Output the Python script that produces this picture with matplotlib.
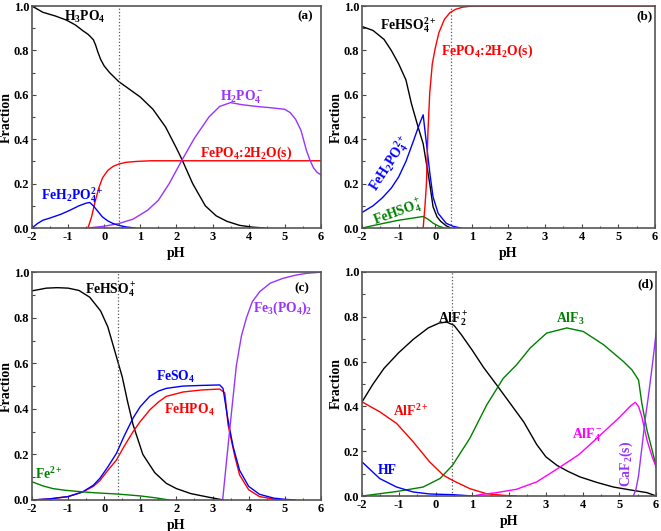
import matplotlib

matplotlib.use("Agg")
import matplotlib.pyplot as plt
from matplotlib.ticker import MultipleLocator, FormatStrFormatter

plt.rcParams["font.family"] = ["Liberation Serif", "DejaVu Serif"]
plt.rcParams["font.weight"] = "bold"
plt.rcParams["mathtext.fontset"] = "custom"
plt.rcParams["mathtext.rm"] = "Liberation Serif:bold"
plt.rcParams["mathtext.bf"] = "Liberation Serif:bold"
plt.rcParams["mathtext.it"] = "Liberation Serif:bold:italic"
plt.rcParams["mathtext.default"] = "rm"
plt.rcParams["axes.unicode_minus"] = False

BLACK = "#000000"
RED = "#ff0000"
BLUE = "#0000ff"
GREEN = "#008000"
PURPLE = "#9933ff"
MAGENTA = "#ff00ff"

# ---- panel (a) ----
a_h3po4_ph = [-2, -1.7, -1.35, -1.05, -0.8, -0.6, -0.45, -0.38, -0.3, -0.24, -0.18, -0.1, 0.0,
              0.15, 0.4, 0.7, 1.0, 1.35, 1.7, 2.0, 2.15, 2.45, 2.8, 3.1, 3.4, 3.75, 4.1, 4.45]
a_h3po4 = [1.0, 0.972, 0.955, 0.937, 0.915, 0.89, 0.873, 0.862, 0.848, 0.825, 0.795, 0.76,
           0.73, 0.7, 0.66, 0.625, 0.59, 0.535, 0.455, 0.36, 0.31, 0.2, 0.1, 0.055, 0.03,
           0.012, 0.004, 0.0]
a_fepo4_ph = [-0.45, -0.35, -0.25, -0.15, -0.05, 0.1, 0.25, 0.4, 0.6, 0.9, 1.3, 6.0]
a_fepo4 = [0.0, 0.05, 0.12, 0.18, 0.225, 0.26, 0.278, 0.288, 0.296, 0.3, 0.303, 0.303]
a_h2po4_ph = [-0.45, 0.0, 0.4, 0.8, 1.2, 1.5, 1.8, 2.15, 2.5, 2.9, 3.2, 3.5, 3.8, 4.2, 4.6, 5.0,
              5.15, 5.3, 5.45, 5.6, 5.7, 5.8, 5.9, 6.0]
a_h2po4 = [0.0, 0.008, 0.02, 0.04, 0.08, 0.125, 0.2, 0.305, 0.405, 0.5, 0.548, 0.565, 0.556,
           0.548, 0.542, 0.535, 0.52, 0.49, 0.44, 0.35, 0.305, 0.27, 0.25, 0.24]
a_feh2po4_ph = [-2, -1.85, -1.7, -1.5, -1.2, -0.95, -0.7, -0.5, -0.4, -0.3, -0.2, -0.05, 0.1,
                0.25, 0.4, 0.6, 0.85]
a_feh2po4 = [0.0, 0.02, 0.035, 0.045, 0.062, 0.08, 0.1, 0.112, 0.115, 0.1, 0.08, 0.05, 0.032,
             0.02, 0.012, 0.005, 0.0]

# ---- panel (b) ----
b_fehso4_ph = [-2, -1.7, -1.4, -1.2, -1.0, -0.8, -0.65, -0.47, -0.33, -0.24, -0.15, -0.06,
               0.05, 0.15, 0.3, 0.42]
b_fehso4 = [0.908, 0.89, 0.85, 0.8, 0.74, 0.667, 0.56, 0.456, 0.38, 0.29, 0.2, 0.096, 0.05,
            0.03, 0.01, 0.0]
b_feh2po4_ph = [-2, -1.7, -1.45, -1.2, -1.0, -0.8, -0.6, -0.45, -0.33, -0.24, -0.15, -0.06,
                0.08, 0.3, 0.5, 0.7]
b_feh2po4 = [0.07, 0.1, 0.135, 0.18, 0.23, 0.3, 0.39, 0.46, 0.51, 0.38, 0.25, 0.14, 0.066,
             0.021, 0.007, 0.0]
b_fehso4p_ph = [-2, -1.5, -1.0, -0.6, -0.33, -0.2, -0.06, 0.1, 0.25]
b_fehso4p = [0.0, 0.018, 0.035, 0.045, 0.052, 0.04, 0.022, 0.008, 0.0]
b_fepo4_ph = [-0.33, -0.28, -0.24, -0.2, -0.15, -0.08, 0.0, 0.1, 0.25, 0.4, 0.55, 0.75, 1.0, 6.0]
b_fepo4 = [0.0, 0.1, 0.2, 0.43, 0.61, 0.74, 0.81, 0.88, 0.94, 0.97, 0.985, 0.995, 1.0, 1.0]

# ---- panel (c) ----
c_fehso4_ph = [-2, -1.6, -1.3, -1.0, -0.7, -0.4, -0.1, 0.1, 0.3, 0.5, 0.65, 0.8, 1.07, 1.4,
               1.72, 2.0, 2.4, 2.9, 3.3]
c_fehso4 = [0.918, 0.93, 0.932, 0.93, 0.92, 0.89, 0.83, 0.76, 0.65, 0.54, 0.43, 0.33, 0.2,
            0.12, 0.073, 0.05, 0.028, 0.012, 0.0]
c_feso4_ph = [-2, -1.5, -1.0, -0.6, -0.3, -0.12, 0.1, 0.34, 0.55, 0.8, 1.0, 1.26, 1.5, 1.72,
              2.18, 2.7, 3.2, 3.29, 3.36, 3.43, 3.57, 3.75, 4.0, 4.3, 4.7, 5.0, 5.3]
c_feso4 = [0.0, 0.005, 0.015, 0.035, 0.065, 0.095, 0.145, 0.205, 0.28, 0.36, 0.41, 0.455,
           0.478, 0.49, 0.5, 0.503, 0.505, 0.49, 0.42, 0.35, 0.234, 0.13, 0.06, 0.025, 0.008,
           0.003, 0.0]
c_fehpo4_ph = [-2, -1.5, -1.0, -0.6, -0.3, -0.12, 0.1, 0.34, 0.55, 0.8, 1.0, 1.26, 1.5, 1.72,
               2.18, 2.7, 3.2, 3.34, 3.43, 3.62, 3.75, 4.0, 4.3, 4.7, 5.0]
c_fehpo4 = [0.0, 0.005, 0.015, 0.035, 0.06, 0.085, 0.13, 0.176, 0.235, 0.3, 0.345, 0.395,
            0.43, 0.455, 0.474, 0.483, 0.487, 0.47, 0.33, 0.19, 0.11, 0.045, 0.015, 0.004, 0.0]
c_fe3po4_ph = [3.28, 3.47, 3.66, 3.8, 3.94, 4.1, 4.31, 4.6, 4.95, 5.3, 5.6, 6.0]
c_fe3po4 = [0.0, 0.3, 0.59, 0.72, 0.8, 0.87, 0.915, 0.952, 0.973, 0.987, 0.995, 1.0]
c_fe2_ph = [-2, -1.7, -1.42, -1.1, -0.77, -0.3, 0.38, 0.99, 1.4, 1.8]
c_fe2 = [0.08, 0.062, 0.05, 0.043, 0.038, 0.032, 0.026, 0.018, 0.01, 0.0]

# ---- panel (d) ----
d_alf2_ph = [-2, -1.7, -1.4, -1.0, -0.6, -0.2, 0.1, 0.3, 0.5, 0.7, 1.0, 1.3, 1.66, 2.0, 2.4,
             2.75, 3.0, 3.3, 3.6, 3.93, 4.4, 4.84, 5.3, 5.75, 6.0]
d_alf2 = [0.42, 0.5, 0.57, 0.64, 0.7, 0.75, 0.772, 0.776, 0.762, 0.72, 0.65, 0.575, 0.496,
          0.42, 0.33, 0.23, 0.175, 0.137, 0.11, 0.085, 0.06, 0.04, 0.027, 0.015, 0.0]
d_alf3_ph = [-2, -1.06, -0.34, 0.12, 0.46, 0.93, 1.39, 1.84, 2.2, 2.57, 3.02, 3.57, 4.02, 4.57,
             5.11, 5.34, 5.52, 5.61, 5.75, 5.89, 6.0]
d_alf3 = [0.0, 0.02, 0.04, 0.078, 0.137, 0.257, 0.406, 0.525, 0.585, 0.66, 0.727, 0.75, 0.734,
          0.675, 0.6, 0.563, 0.518, 0.414, 0.294, 0.205, 0.13]
d_alf_ph = [-2, -1.52, -1.06, -0.61, -0.16, 0.21, 0.46, 0.93, 1.39, 1.84, 2.2]
d_alf = [0.42, 0.376, 0.324, 0.242, 0.152, 0.093, 0.07, 0.033, 0.01, 0.003, 0.0]
d_hf_ph = [-2, -1.52, -1.06, -0.61, -0.16, 0.46, 0.75, 1.0]
d_hf = [0.152, 0.078, 0.04, 0.018, 0.009, 0.006, 0.003, 0.0]
d_alf4_ph = [1.0, 1.3, 1.66, 2.2, 2.75, 3.3, 3.9, 4.47, 5.02, 5.29, 5.43, 5.52, 5.61, 5.75,
             5.89, 6.0]
d_alf4 = [0.0, 0.008, 0.015, 0.03, 0.063, 0.12, 0.185, 0.27, 0.354, 0.4, 0.418, 0.4, 0.354,
          0.25, 0.175, 0.13]
d_caf2_ph = [5.38, 5.45, 5.52, 5.6, 5.7, 5.8, 5.9, 6.0]
d_caf2 = [0.0, 0.03, 0.09, 0.2, 0.34, 0.46, 0.59, 0.73]

LW = 1.0
LFS = 9.8


def style_axes(ax, tag, tag_xy, vline_x):
    ax.set_xlim(-2, 6)
    ax.set_ylim(0, 1.0)
    ax.xaxis.set_major_locator(MultipleLocator(1))
    ax.xaxis.set_minor_locator(MultipleLocator(0.5))
    ax.yaxis.set_major_locator(MultipleLocator(0.2))
    ax.yaxis.set_minor_locator(MultipleLocator(0.1))
    ax.yaxis.set_major_formatter(FormatStrFormatter("%.1f"))
    ax.tick_params(which="both", direction="in", labelsize=9, width=0.8, color="#444444",
                   pad=2)
    ax.tick_params(which="major", length=3)
    ax.tick_params(which="minor", length=1.8)
    for sp in ax.spines.values():
        sp.set_linewidth(1.2)
        sp.set_color("#555555")
    ax.set_xlabel("pH", fontsize=10, fontweight="bold", labelpad=3)
    ax.set_ylabel("Fraction", fontsize=10, fontweight="bold", labelpad=1)
    ax.axvline(vline_x, color="#555555", linestyle=":", linewidth=0.9)
    ax.text(tag_xy[0], tag_xy[1], tag, fontsize=9.5, fontweight="bold", ha="center", va="center")


fig = plt.figure(figsize=(6.61, 5.31), dpi=100)
ax_a = fig.add_axes([0.0484, 0.5706, 0.437, 0.418])
ax_b = fig.add_axes([0.5477, 0.5706, 0.443, 0.418])
ax_c = fig.add_axes([0.0484, 0.0584, 0.437, 0.429])
ax_d = fig.add_axes([0.5477, 0.0659, 0.445, 0.422])

# (a)
ax_a.plot(a_h3po4_ph, a_h3po4, color=BLACK, lw=LW)
ax_a.plot(a_fepo4_ph, a_fepo4, color=RED, lw=LW)
ax_a.plot(a_h2po4_ph, a_h2po4, color=PURPLE, lw=LW)
ax_a.plot(a_feh2po4_ph, a_feh2po4, color=BLUE, lw=LW)
style_axes(ax_a, "(a)", (5.57, 0.955), 0.4)
ax_a.text(-1.1, 0.95, "H$_3$PO$_4$", color=BLACK, fontsize=LFS, va="center")
ax_a.text(-1.74, 0.15, "FeH$_2$PO$_4^{2+}$", color=BLUE, fontsize=LFS, va="center")
ax_a.text(2.65, 0.337, "FePO$_4$:2H$_2$O(s)", color=RED, fontsize=LFS, va="center")
ax_a.text(3.2, 0.59, "H$_2$PO$_4^-$", color=PURPLE, fontsize=LFS, va="center")

# (b)
ax_b.plot(b_fehso4_ph, b_fehso4, color=BLACK, lw=LW)
ax_b.plot(b_feh2po4_ph, b_feh2po4, color=BLUE, lw=LW)
ax_b.plot(b_fehso4p_ph, b_fehso4p, color=GREEN, lw=LW)
ax_b.plot(b_fepo4_ph, b_fepo4, color=RED, lw=LW)
style_axes(ax_b, "(b)", (5.73, 0.952), 0.44)
ax_b.text(-1.52, 0.915, "FeHSO$_4^{2+}$", color=BLACK, fontsize=LFS, va="center")
ax_b.text(0.17, 0.795, "FePO$_4$:2H$_2$O(s)", color=RED, fontsize=LFS, va="center")
ax_b.text(-1.24, 0.29, "FeH$_2$PO$_4^{2+}$", color=BLUE, fontsize=LFS, va="center",
          ha="center", rotation=57, rotation_mode="anchor")
ax_b.text(-1.02, 0.07, "FeHSO$_4^+$", color=GREEN, fontsize=LFS, va="center",
          ha="center", rotation=20, rotation_mode="anchor")

# (c)
ax_c.plot(c_fehso4_ph, c_fehso4, color=BLACK, lw=LW)
ax_c.plot(c_fehpo4_ph, c_fehpo4, color=RED, lw=LW)
ax_c.plot(c_feso4_ph, c_feso4, color=BLUE, lw=LW)
ax_c.plot(c_fe3po4_ph, c_fe3po4, color=PURPLE, lw=LW)
ax_c.plot(c_fe2_ph, c_fe2, color=GREEN, lw=LW)
style_axes(ax_c, "(c)", (5.46, 0.93), 0.38)
ax_c.text(-0.54, 0.922, "FeHSO$_4^+$", color=BLACK, fontsize=LFS, va="center")
ax_c.text(1.43, 0.54, "FeSO$_4$", color=BLUE, fontsize=LFS, va="center")
ax_c.text(1.66, 0.395, "FeHPO$_4$", color=RED, fontsize=LFS, va="center")
ax_c.text(4.12, 0.842, "Fe$_3$(PO$_4$)$_2$", color=PURPLE, fontsize=LFS, va="center")
ax_c.text(-1.93, 0.113, "Fe$^{2+}$", color=GREEN, fontsize=LFS, va="center")

# (d)
ax_d.plot(d_alf2_ph, d_alf2, color=BLACK, lw=LW)
ax_d.plot(d_alf3_ph, d_alf3, color=GREEN, lw=LW)
ax_d.plot(d_alf_ph, d_alf, color=RED, lw=LW)
ax_d.plot(d_hf_ph, d_hf, color=BLUE, lw=LW)
ax_d.plot(d_alf4_ph, d_alf4, color=MAGENTA, lw=LW)
ax_d.plot(d_caf2_ph, d_caf2, color=PURPLE, lw=LW)
style_axes(ax_d, "(d)", (5.7, 0.943), 0.46)
ax_d.text(0.07, 0.794, "AlF$_2^+$", color=BLACK, fontsize=LFS, va="center")
ax_d.text(3.27, 0.79, "AlF$_3$", color=GREEN, fontsize=LFS, va="center")
ax_d.text(-1.16, 0.38, "AlF$^{2+}$", color=RED, fontsize=LFS, va="center")
ax_d.text(3.72, 0.27, "AlF$_4^-$", color=MAGENTA, fontsize=LFS, va="center")
ax_d.text(-1.56, 0.115, "HF", color=BLUE, fontsize=LFS, va="center")
ax_d.text(5.2, 0.145, "CaF$_2$(s)", color=PURPLE, fontsize=LFS, va="center", ha="center",
          rotation=90)

fig.savefig("out.png", dpi=100)
